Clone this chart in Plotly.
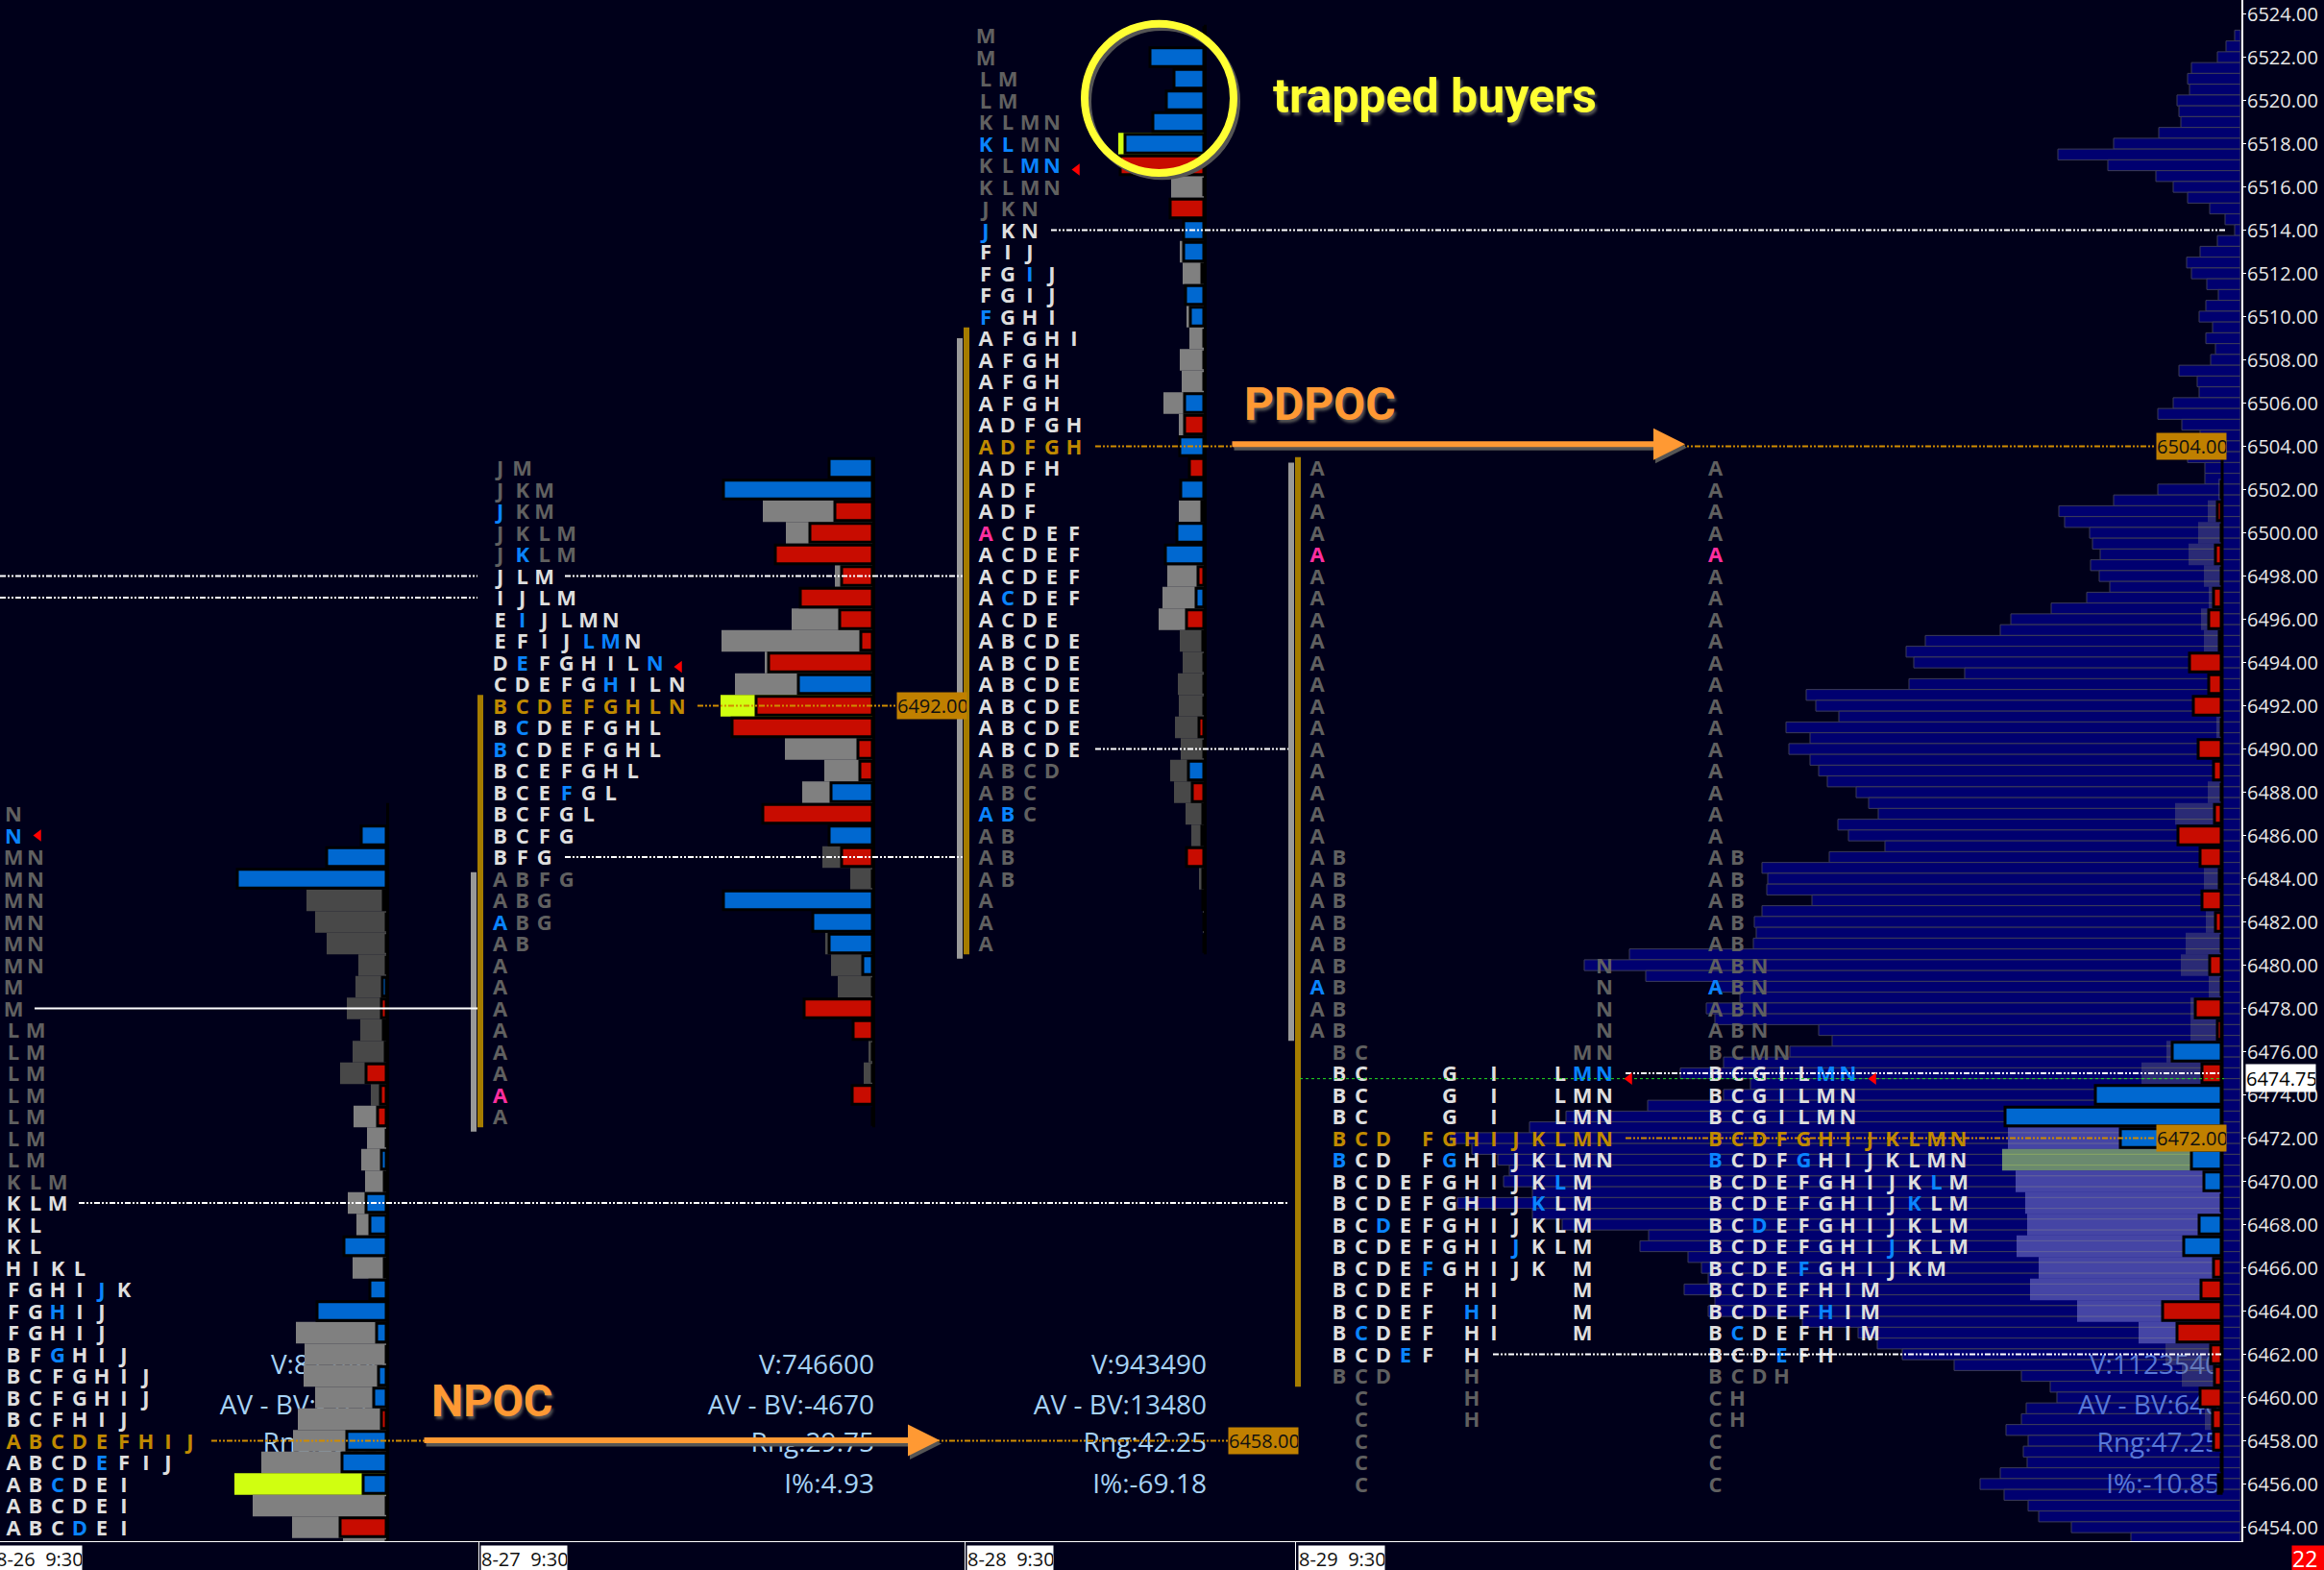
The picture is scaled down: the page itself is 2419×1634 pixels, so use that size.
import plotly.graph_objects as go

# Price rows run downward one point at a time from each *_top value
s1_top = 6487
s1_rows = ["N", "N"] + ["MN"] * 6 + ["M"] * 2 + ["LM"] * 7 + ["KLM"] * 2 + ["KL"] * 2 + [
    "HIKL", "FGHIJK", "FGHIJ", "FGHIJ", "BFGHIJ", "BCFGHIJ", "BCFGHIJ", "BCFHIJ",
    "ABCDEFHIJ", "ABCDEFIJ", "ABCDEI", "ABCDEI", "ABCDEI"]
s1_blue = {6486: "N", 6465: "J", 6464: "H", 6462: "G", 6457: "E", 6456: "C", 6454: "D"}
s1_pink = {}
s1_poc = 6458
s1_bright = (6454, 6469)

s2_top = 6503
s2_rows = ["JM", "JKM", "JKM", "JKLM", "JKLM", "JLM", "IJLM", "EIJLMN", "EFIJLMN", "DEFGHILN",
           "CDEFGHILN", "BCDEFGHLN", "BCDEFGHL", "BCDEFGHL", "BCEFGHL", "BCEFGL", "BCFGL", "BCFG",
           "BFG", "ABFG", "ABG", "ABG", "AB"] + ["A"] * 8
s2_blue = {6501: "J", 6499: "K", 6496: "I", 6495: "LM", 6494: "EN", 6493: "H", 6491: "C",
           6490: "B", 6488: "F", 6482: "A"}
s2_pink = {6474: "A"}
s2_poc = 6492
s2_bright = (6485, 6498)

s3_top = 6523
s3_rows = ["M", "M", "LM", "LM", "KLMN", "KLMN", "KLMN", "KLMN", "JKN", "JKN", "FIJ", "FGIJ", "FGIJ",
           "FGHI", "AFGHI", "AFGH", "AFGH", "AFGH", "ADFGH", "ADFGH", "ADFH", "ADF", "ADF",
           "ACDEF", "ACDEF", "ACDEF", "ACDEF", "ACDE", "ABCDE", "ABCDE", "ABCDE", "ABCDE", "ABCDE",
           "ABCDE", "ABCD", "ABC", "ABC", "AB", "AB", "AB", "A", "A", "A"]
s3_blue = {6518: "KL", 6517: "MN", 6514: "J", 6512: "I", 6510: "F", 6497: "C", 6487: "AB"}
s3_pink = {6500: "A"}
s3_poc = 6504
s3_bright = (6490, 6514)

s4_top = 6503
s4_rows = ["A"] * 18 + ["AB"] * 5 + ["ABN"] * 4 + ["BCMN"] + ["BCGILMN"] * 3 + ["BCDFGHIJKLMN"] * 2 + [
    "BCDEFGHIJKLM"] * 4 + ["BCDEFGHIJKM"] + ["BCDEFHIM"] * 3 + ["BCDEFH", "BCDH", "CH", "CH", "C", "C", "C"]
s4_blue = {6479: "A", 6475: "MN", 6471: "BG", 6470: "L", 6469: "K", 6468: "D", 6467: "J",
           6466: "F", 6464: "H", 6463: "C", 6462: "E"}
s4_pink = {6499: "A"}
s4_poc = 6472
s4_bright = (6462, 6475)

# Volume and delta per row, top price first
s1_bar_top = 6486
s1_volume = [0, 0, 0, 83, 74, 62, 29, 32, 41, 27, 35, 48, 16, 34, 20, 26, 22, 40, 31, 0, 35, 0, 0, 94, 85,
             86, 74, 92, 97, 130, 158, 139, 98, 45]
s1_delta = [26, 62, 155, 3, 0, 0, 0, 4, -5, 3, -1, -21, -6, -9, 0, 5, -2, 21, 17, 44, 2, 17, 72, 10, 0,
            8, 13, -5, 41, 46, 24, 0, -48, 0]
s1_dark = [6483, 6482, 6481, 6480, 6479, 6478, 6477, 6476, 6475, 6474]

s2_bar_top = 6503
s2_volume = [0, 0, 114, 90, 0, 39, 0, 84, 157, 112, 143, 158, 0, 91, 50, 73, 0, 0, 52, 23, 0, 0, 49, 43,
             36, 0, 0, 4, 9, 0, 0]
s2_delta = [45, 155, -39, -65, -101, -32, -75, -34, -12, -108, 77, -121, -146, -15, -13, 43, -114, 45,
            -32, 0, 155, 62, 45, 10, 0, -71, -20, 0, 0, -21, 0]
s2_dark = [6485, 6484, 6481, 6480, 6479, 6476, 6475]

s3_bar_top = 6523
s3_volume = [0, 0, 0, 0, 0, 89, 0, 34, 0, 0, 25, 22, 0, 18, 15, 25, 23, 42, 26, 0, 0, 0, 26, 0, 0, 38, 43,
             47, 25, 22, 27, 26, 30, 24, 35, 31, 19, 13, 0, 5, 0, 1, 0]
s3_delta = [0, 56, 31, 39, 53, 82, -87, 0, -35, 21, 21, 2, 19, 14, 0, 0, 0, 20, -20, 25, -15, 24, 2, 28,
            40, -6, 8, -18, 1, 0, 0, 0, -5, 0, 16, -12, -1, -2, -18, -1, -1, 0, 0]
s3_dark = [6495, 6494, 6493, 6492, 6491, 6490, 6489, 6488, 6487, 6486, 6485, 6484, 6483, 6482]

s4_bar_top = 6502
s4_volume = [3, 14, 24, 34, 18, 13, 21, 18, 0, 0, 0, 5, 0, 0, 14, 48, 0, 0, 18, 0, 16, 37, 42, 13, 32, 32,
             57, 83, 0, 0, 222, 228, 214, 204, 202, 213, 190, 199, 150, 86, 58, 41, 0, 17, 0, 0, 0]
s4_delta = [0, -4, 0, -6, 0, -8, -13, -2, -33, -13, -29, 0, -24, -8, 0, -7, -45, -22, 2, -20, -6, 0, -12,
            0, -27, -4, 51, -20, 131, 225, 105, 31, 18, 0, 23, 39, -8, -21, -61, -46, -11, -7, -22, -9,
            -8, 0, -3]
s4_light = [6472, 6471, 6470, 6469, 6468, 6467, 6466, 6465, 6464, 6463]

# Composite volume profile, half point rows: each line is p.00 then p-0.50
composite_top = 6523
composite_volume = [
    6, 15, 24, 51, 55, 53, 66, 64, 62, 85, 132, 190, 138, 88, 70, 55, 32, 16, 6, 24,
    42, 56, 51, 35, 23, 36, 43, 29, 36, 26, 31, 64, 45, 43, 70, 86, 61, 42, 42, 55,
    37, 37, 86, 132, 189, 183, 157, 154, 146, 156, 147, 136, 160, 197, 239, 250,
    328, 348, 340, 287, 345, 452, 442, 418, 473, 448, 470, 448, 439, 430, 400, 387,
    377, 419, 408, 370, 428, 498, 492, 493, 446, 498, 506, 504, 507, 636, 683, 619,
    544, 521, 556, 547, 439, 425, 469, 538, 583, 510, 538, 617, 702, 740, 822, 800,
    773, 761, 767, 737, 815, 737, 706, 616, 625, 575, 561, 554, 579, 547, 554, 456,
    398, 378, 352, 298, 228, 198, 191, 223, 228, 244, 221, 226, 222, 250, 271, 246,
    221, 210, 176, 114]

# Session statistics
s1_stats = ["V:812460", "AV - BV:-3210", "Rng:29.50", "I%:-12.40"]
s2_stats = ["V:746600", "AV - BV:-4670", "Rng:29.75", "I%:4.93"]
s3_stats = ["V:943490", "AV - BV:13480", "Rng:42.25", "I%:-69.18"]
s4_stats = ["V:1123540", "AV - BV:640", "Rng:47.25", "I%:-10.85"]
stat_prices = [6461.4, 6459.55, 6457.8, 6455.9]

session_labels = ["8-26  9:30", "8-27  9:30", "8-28  9:30", "8-29  9:30"]
y_ticks = list(range(6454, 6525, 2))
last_price = 6474.75
alert_count = "22"

# Layout constants, the x axis is the chart's own bar offset
BG = "#00001a"
W, H = 2419, 1634
PLOT_R, PLOT_B = 2333, 1604
PX_PER_POINT = 22.5
Y_TOP = 6524 + 14.5 / PX_PER_POINT
Y_BOT = 6524 - (PLOT_B - 14.5) / PX_PER_POINT
CELL = 23
LETTER_DROP = 0.12
DASH = "6px,2px,2px,2px,2px,2px"
BLUE, RED = "#0068d0", "#c80c00"
LIGHT, DARK = "#808080", "#484848"
YELLOW = "#d0ff10"
GOLD_TXT = "#c08a00"
ORANGE = "#ff9933"
STAT = "#a6d2f5"
FONT = "Open Sans"

fig = go.Figure()


def letter_cells(top, rows, blue, pink, poc, bright, start, packed):
    xs, ys, txt, cols = [], [], [], []
    for i, row in enumerate(rows):
        price = top - i
        for j, ch in enumerate(row):
            col = j if packed else ord(ch) - ord("A")
            if ch in blue.get(price, ""):
                c = "#0a84ff"
            elif ch in pink.get(price, ""):
                c = "#ff2f9f"
            elif price == poc:
                c = GOLD_TXT
            elif bright[0] <= price <= bright[1]:
                c = "#dedede"
            else:
                c = "#606060"
            xs.append(start + col * CELL)
            ys.append(price - LETTER_DROP)
            txt.append(ch)
            cols.append(c)
    return go.Scatter(x=xs, y=ys, text=txt, mode="text", textposition="middle center",
                      textfont=dict(family=FONT, size=22, color=cols, weight=700),
                      xaxis="x2", yaxis="y2", hoverinfo="skip", showlegend=False)


def session_bars(top, volume, delta, edge, colors):
    prices = [top - i for i in range(len(volume))]
    fig.add_trace(go.Bar(y=prices, x=[-v for v in volume], base=edge, orientation="h", width=1,
                         marker=dict(color=colors, line_width=0), xaxis="x2", yaxis="y2",
                         hoverinfo="skip", showlegend=False))
    fig.add_trace(go.Bar(y=prices, x=[-abs(d) for d in delta], base=edge, orientation="h", width=0.86,
                         marker=dict(color=[BLUE if d > 0 else RED for d in delta],
                                     line=dict(color="black", width=3)),
                         xaxis="x2", yaxis="y2", hoverinfo="skip", showlegend=False))


def add_line(x, y, color, width, dash="solid"):
    fig.add_trace(go.Scatter(x=x, y=y, mode="lines", line=dict(color=color, width=width, dash=dash),
                             xaxis="x2", yaxis="y2", hoverinfo="skip", showlegend=False))


# Composite profile sits in the lower subplot, with the statistics over it
comp_prices = [composite_top - 0.5 * i for i in range(len(composite_volume))]
fig.add_trace(go.Bar(y=comp_prices, x=[-v for v in composite_volume], base=2332, orientation="h", width=0.5,
                     marker=dict(color="#000070", line=dict(color="#3c3c58", width=1)),
                     hoverinfo="skip", showlegend=False))

for stats, edge, color in [(s1_stats, 402, STAT), (s2_stats, 910, STAT), (s3_stats, 1256, STAT),
                           (s4_stats, 2311, "#5878d8")]:
    fig.add_trace(go.Scatter(x=[edge] * 4, y=stat_prices, text=stats, mode="text", textposition="middle left",
                             textfont=dict(family=FONT, size=28, color=color),
                             hoverinfo="skip", showlegend=False))

# Session volume and delta bars
for top, vol, delta, edge, dark in [(s1_bar_top, s1_volume, s1_delta, 402, s1_dark),
                                    (s2_bar_top, s2_volume, s2_delta, 908, s2_dark),
                                    (s3_bar_top, s3_volume, s3_delta, 1253, s3_dark)]:
    peak = max(vol)
    colors = [YELLOW if v == peak else DARK if top - i in dark else LIGHT for i, v in enumerate(vol)]
    session_bars(top, vol, delta, edge, colors)

peak4 = max(s4_volume)
colors4 = ["rgba(193,250,112,0.55)" if v == peak4
           else "rgba(125,125,210,0.55)" if s4_bar_top - i in s4_light
           else "rgba(128,128,128,0.33)" for i, v in enumerate(s4_volume)]
session_bars(s4_bar_top, s4_volume, s4_delta, 2312, colors4)

# Black spine behind each delta column
for edge, hi, lo in [(403.5, 6487.5, 6453.4), (909.5, 6503.5, 6472.5), (1254.5, 6523.5, 6480.5),
                     (2313, 6503.4, 6455.6)]:
    add_line([edge, edge], [hi, lo], "black", 3)

# TPO letters
fig.add_trace(letter_cells(s1_top, s1_rows, s1_blue, s1_pink, s1_poc, s1_bright, 14, True))
fig.add_trace(letter_cells(s2_top, s2_rows, s2_blue, s2_pink, s2_poc, s2_bright, 520.7, True))
fig.add_trace(letter_cells(s3_top, s3_rows, s3_blue, s3_pink, s3_poc, s3_bright, 1026, True))
fig.add_trace(letter_cells(s4_top, s4_rows, s4_blue, s4_pink, s4_poc, s4_bright, 1371, False))
fig.add_trace(letter_cells(s4_top, s4_rows, s4_blue, s4_pink, s4_poc, s4_bright, 1785.5, True))

# Initial balance and value area rails
for x, hi, lo, color in [(493, 6484.3, 6472.3, "#999999"), (500, 6492.5, 6472.5, "#a57c00"),
                         (999, 6509.0, 6480.3, "#999999"), (1006, 6509.5, 6480.5, "#a57c00"),
                         (1344, 6503.25, 6476.5, "#999999"), (1351, 6503.5, 6460.5, "#a57c00")]:
    add_line([x, x], [hi, lo], color, 6)

# Reference levels
for price, x0, x1 in [(6498, 0, 497), (6497, 0, 497), (6498, 588, 1003), (6485, 588, 1003),
                      (6469, 82, 1341), (6514, 1094, 2316), (6490, 1140, 1341),
                      (6475, 1692, 2312), (6462, 1554, 2312)]:
    add_line([x0, x1], [price, price], "#ffffff", 2, DASH)
for price, x0, x1 in [(s1_poc, 220, 1278), (s2_poc, 726, 933), (s3_poc, 1140, 2244), (s4_poc, 1692, 2244)]:
    add_line([x0, x1], [price, price], "#d08c00", 2, DASH)
add_line([36, 497], [6478, 6478], "#ffffff", 2)
add_line([1353, 2315], [last_price, last_price], "#22dd22", 1, "3px,3px")

# Current price markers
fig.add_trace(go.Scatter(x=[40, 707, 1121, 1696, 1950], y=[6486, 6493.8, 6516.8, last_price, last_price],
                         mode="markers", marker=dict(symbol="triangle-left", size=11, color="#ff0000"),
                         xaxis="x2", yaxis="y2", hoverinfo="skip", showlegend=False))

annotations = []


def label_box(x, y, text, bg, color, w, h, size=20, yref="y", yshift=0, yanchor="middle"):
    # paper x so that boxes beyond the x range stay visible
    annotations.append(dict(x=x / PLOT_R, y=y, xref="paper", yref=yref, text=text, showarrow=False, xanchor="left",
                            yanchor=yanchor, yshift=yshift, width=w, height=h, bgcolor=bg, borderpad=0,
                            align="left", font=dict(family=FONT, size=size, color=color)))


for x, price in [(1278, s1_poc), (933, s2_poc), (2244, s3_poc), (2244, s4_poc)]:
    label_box(x, price, f"{price}.00", "#c08000", "#101010", 72, 27)
label_box(2337, 6474.8, f"{last_price:.2f}", "#ffffff", "#000000", 72, 28)
for x, text in zip([-5, 500, 1006, 1351], session_labels):
    label_box(x, 0, text, "#ffffff", "#101010", 89, 26, size=20, yref="paper", yshift=-4, yanchor="top")
label_box(2385, 0, alert_count, "#ff0000", "#ffffff", 34, 26, size=23, yref="paper", yshift=-4, yanchor="top")

# Hand drawn notes
SHADOW = "2px 3px 3px #555555"
for x, y, text, size, color in [(447, 6459.85, "NPOC", 47, ORANGE), (1293, 6505.95, "PDPOC", 48, ORANGE),
                                (1323, 6520.2, "trapped buyers", 50, "#ffff33")]:
    annotations.append(dict(x=x, y=y, xref="x", yref="y", text=text, showarrow=False, xanchor="left",
                            yanchor="middle",
                            font=dict(family="Roboto", size=size, color=color, weight=700, shadow=SHADOW)))

for ax, tx, price in [(440, 978, 6458.02), (1281, 1754, 6504.1)]:
    for dx, dy, color in [(2, -0.15, "#555555"), (0, 0, ORANGE)]:
        annotations.append(dict(x=tx + dx, y=price + dy, ax=ax + dx, ay=price + dy, xref="x", yref="y",
                                axref="x", ayref="y", text="", showarrow=True, arrowhead=2, arrowsize=1.1,
                                arrowwidth=6, arrowcolor=color, standoff=0))

circle_x = [1129, 1284]
circle_y = [6523.55, 6516.65]
shapes = [
    dict(type="circle", xref="x", yref="y", x0=circle_x[0] + 3, x1=circle_x[1] + 3,
         y0=circle_y[1] - 0.15, y1=circle_y[0] - 0.15, line=dict(color="#555555", width=8)),
    dict(type="circle", xref="x", yref="y", x0=circle_x[0], x1=circle_x[1],
         y0=circle_y[1], y1=circle_y[0], line=dict(color="#ffff33", width=8)),
]

fig.update_layout(
    width=W, height=H, autosize=False,
    margin=dict(l=0, r=W - PLOT_R, t=0, b=H - PLOT_B),
    paper_bgcolor=BG, plot_bgcolor=BG,
    barmode="overlay", showlegend=False,
    annotations=annotations, shapes=shapes,
    xaxis=dict(range=[0, PLOT_R], showgrid=False, zeroline=False, showline=True, linecolor="#ffffff", linewidth=1,
               tickvals=[498, 1004, 1348], ticks="outside", ticklen=30, tickcolor="#ffffff", tickwidth=1,
               showticklabels=False),
    yaxis=dict(range=[Y_BOT, Y_TOP], side="right", anchor="x", showgrid=False, zeroline=False, showline=True,
               linecolor="#ffffff", linewidth=2, tickvals=y_ticks, tickformat=".2f", ticks="outside", ticklen=3,
               ticklabelstandoff=-3, tickcolor="#ffffff", tickfont=dict(family=FONT, size=20, color="#e8e8e8")),
    xaxis2=dict(range=[0, PLOT_R], overlaying="x", anchor="y2", visible=False),
    yaxis2=dict(range=[Y_BOT, Y_TOP], overlaying="y", anchor="x2", visible=False),
)

fig.write_html("out.html", config=dict(displayModeBar=False),
               post_script="document.body.style.margin='0';document.body.style.overflow='hidden';")
